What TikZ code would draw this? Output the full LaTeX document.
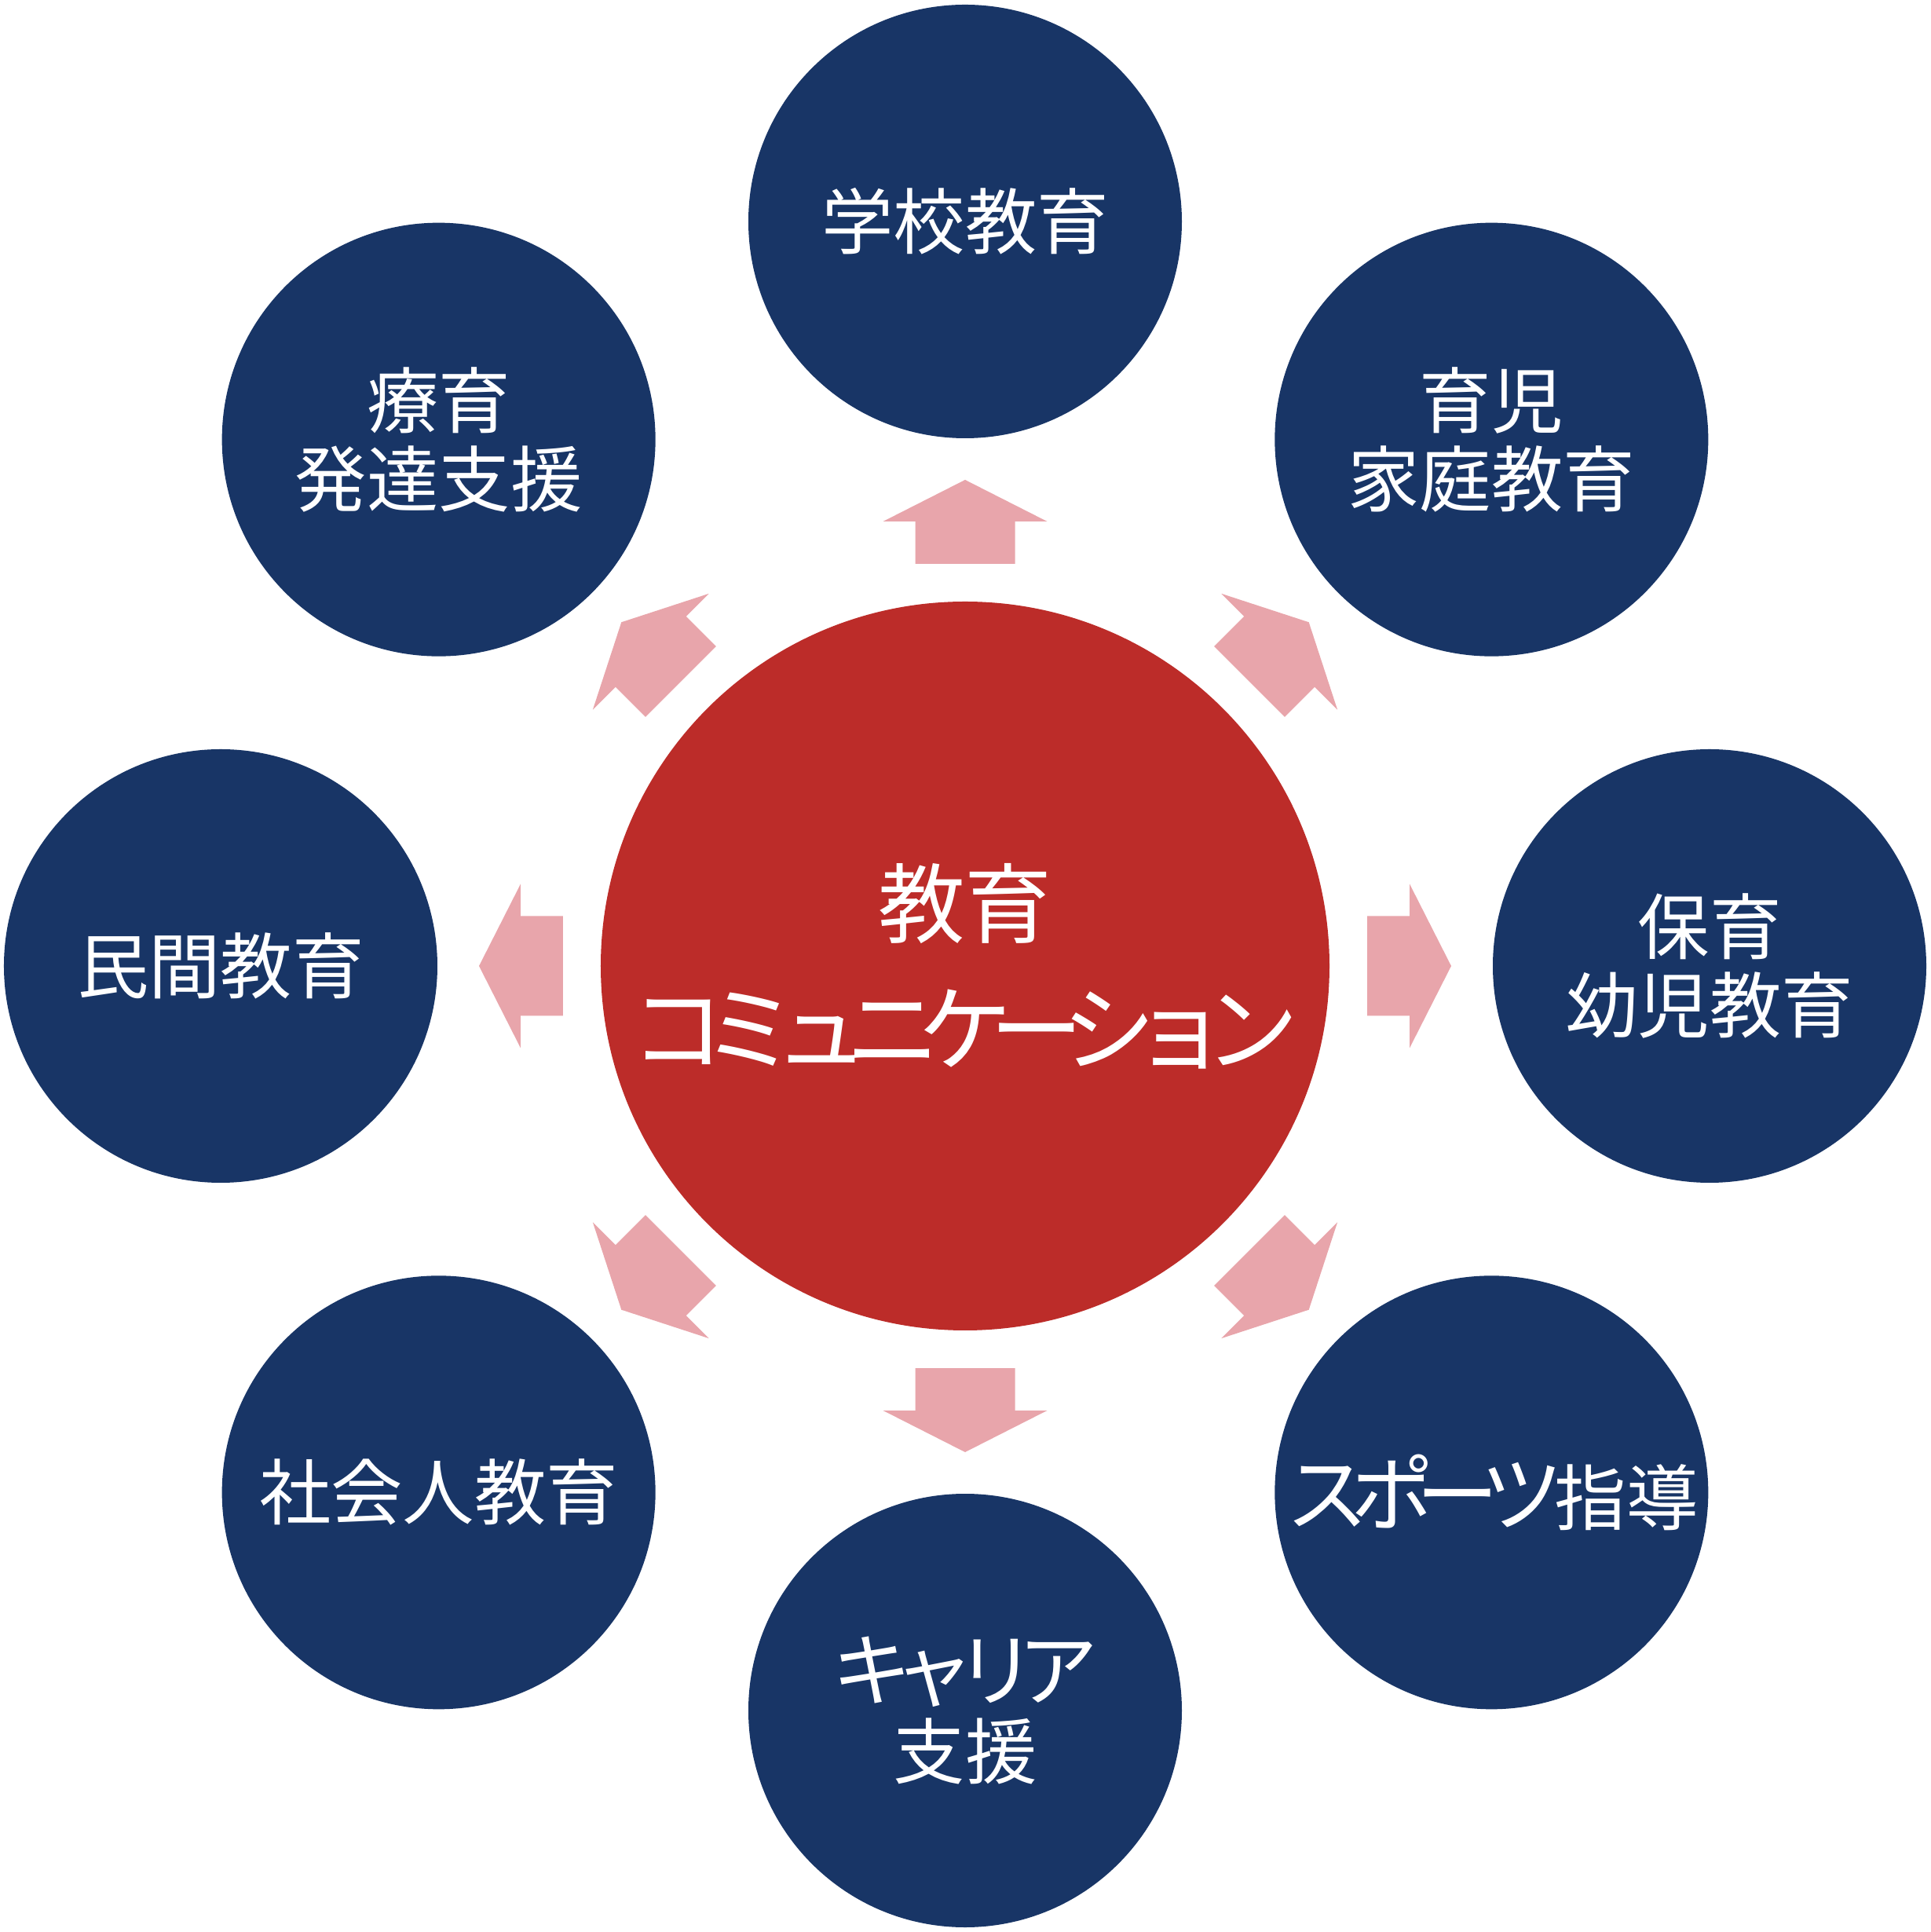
\documentclass[tikz,border=0pt]{standalone}
\usepackage{fontspec}
\setmainfont{Noto Sans CJK JP}
% katakana set larger, each in a fixed-width box
\def\kanaloop#1{\ifx#1\relax\else\makebox[\kanawidth]{#1}\expandafter\kanaloop\fi}
\newcommand{\kana}[3]{{\fontsize{#1}{28.5pt}\selectfont\def\kanawidth{#2}\kanaloop#3\relax}}
\definecolor{navyblue}{RGB}{24,53,102}
\definecolor{corered}{RGB}{188,44,41}
\definecolor{arrowpink}{RGB}{232,165,171}
\tikzset{
  topic/.style={circle, fill=navyblue, text=white, minimum size=5.52cm, inner sep=0pt,
    text width=5cm, align=center, font=\fontsize{26pt}{28.5pt}\selectfont},
  core/.style={circle, fill=corered, text=white, minimum size=9.28cm, inner sep=0pt,
    text width=8.5cm, align=center, font=\fontsize{26pt}{46pt}\selectfont},
}

\begin{document}
\begin{tikzpicture}
        \useasboundingbox (-12.29, -12.30) rectangle (12.29, 12.30);

        \node [core] (center) at (0, 0) {{\fontsize{31.5pt}{46pt}\selectfont 教育}\\\kana{34pt}{26pt}{コミュニケーション}};

        \node [topic] (school) at (90:9.48) {学校教育};
        \node [topic] (family) at (45:9.48) {育児\\家庭教育};
        \node [topic] (nursery) at (0:9.48) {保育\\幼児教育};
        \node [topic] (sports) at (-45:9.48) {\kana{30pt}{23.5pt}{スポーツ}指導};
        \node [topic] (career) at (-90:9.48) {\kana{29pt}{22.5pt}{キャリア}\\支援};
        \node [topic] (adult) at (-135:9.48) {社会人教育};
        \node [topic] (private) at (180:9.48) {民間教育};
        \node [topic] (therapy) at (135:9.48) {療育\\発達支援};

        % block arrows from the centre outwards
        \fill [arrowpink, rotate=0] (-0.635, 5.12) -- (0.635, 5.12) -- (0.635, 5.66) -- (1.045, 5.66) -- (0, 6.19) -- (-1.045, 5.66) -- (-0.635, 5.66) -- cycle;
        \fill [arrowpink, rotate=-45] (-0.635, 5.12) -- (0.635, 5.12) -- (0.635, 5.66) -- (1.045, 5.66) -- (0, 6.19) -- (-1.045, 5.66) -- (-0.635, 5.66) -- cycle;
        \fill [arrowpink, rotate=-90] (-0.635, 5.12) -- (0.635, 5.12) -- (0.635, 5.66) -- (1.045, 5.66) -- (0, 6.19) -- (-1.045, 5.66) -- (-0.635, 5.66) -- cycle;
        \fill [arrowpink, rotate=-135] (-0.635, 5.12) -- (0.635, 5.12) -- (0.635, 5.66) -- (1.045, 5.66) -- (0, 6.19) -- (-1.045, 5.66) -- (-0.635, 5.66) -- cycle;
        \fill [arrowpink, rotate=180] (-0.635, 5.12) -- (0.635, 5.12) -- (0.635, 5.66) -- (1.045, 5.66) -- (0, 6.19) -- (-1.045, 5.66) -- (-0.635, 5.66) -- cycle;
        \fill [arrowpink, rotate=135] (-0.635, 5.12) -- (0.635, 5.12) -- (0.635, 5.66) -- (1.045, 5.66) -- (0, 6.19) -- (-1.045, 5.66) -- (-0.635, 5.66) -- cycle;
        \fill [arrowpink, rotate=90] (-0.635, 5.12) -- (0.635, 5.12) -- (0.635, 5.66) -- (1.045, 5.66) -- (0, 6.19) -- (-1.045, 5.66) -- (-0.635, 5.66) -- cycle;
        \fill [arrowpink, rotate=45] (-0.635, 5.12) -- (0.635, 5.12) -- (0.635, 5.66) -- (1.045, 5.66) -- (0, 6.19) -- (-1.045, 5.66) -- (-0.635, 5.66) -- cycle;
      \end{tikzpicture}
\end{document}
